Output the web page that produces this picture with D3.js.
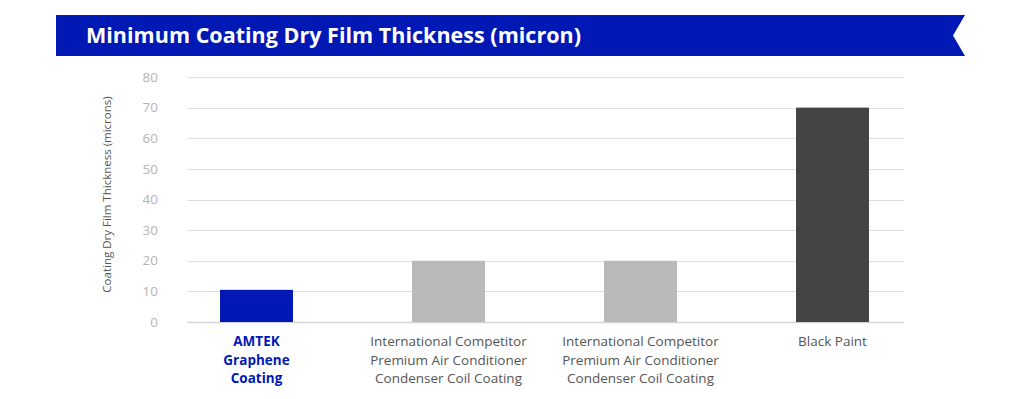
<!DOCTYPE html>
<html>
<head>
<meta charset="utf-8">
<script src="https://cdn.jsdelivr.net/npm/d3@7"></script>
<style>
  body { margin: 0; background: #fff; }
  svg { display: block; font-family: "Open Sans", "Noto Sans", sans-serif; }
</style>
</head>
<body>
<svg id="chart" width="1024" height="399"></svg>
<script>
// Chart data.
var categories = [
    ['AMTEK', 'Graphene', 'Coating'],
    ['International Competitor', 'Premium Air Conditioner', 'Condenser Coil Coating'],
    ['International Competitor', 'Premium Air Conditioner', 'Condenser Coil Coating'],
    ['Black Paint']
];
var values = [10.5, 20, 20, 70];
var barColors = ['#0119b4', '#b8b9bb', '#b8b9bb', '#444444'];
var labelColors = ['#0119b4', '#555555', '#555555', '#555555'];
var yTicks = [0, 10, 20, 30, 40, 50, 60, 70, 80];

var svg = d3.select('#chart');

// Title banner with the notch on the right.
var bannerTop = 15, bannerBottom = 56, bannerLeft = 56, bannerRight = 965, notch = 12;
svg.append('path')
    .attr('d', d3.line()([
        [bannerLeft, bannerTop], [bannerRight, bannerTop],
        [bannerRight - notch, (bannerTop + bannerBottom) / 2],
        [bannerRight, bannerBottom], [bannerLeft, bannerBottom]
    ]) + 'Z')
    .attr('fill', '#0119b4');

svg.append('text')
    .attr('x', 86)
    .attr('y', 43)
    .attr('fill', '#fff')
    .attr('font-size', 21.5)
    .attr('font-weight', 'bold')
    .attr('textLength', 495)
    .text('Minimum Coating Dry Film Thickness (micron)');

// Scales.
var y = d3.scaleLinear().domain([0, 80]).range([322, 77]);
var x = d3.scaleBand()
    .domain(d3.range(categories.length))
    .range([160.5, 928.5])
    .paddingInner(0.62)
    .paddingOuter(0.31);

var gridLeft = 187, gridRight = 904;

// Gridlines.
svg.append('g')
    .selectAll('line')
    .data(yTicks)
    .join('line')
    .attr('x1', gridLeft)
    .attr('x2', gridRight)
    .attr('y1', d => Math.round(y(d)) + 0.5)
    .attr('y2', d => Math.round(y(d)) + 0.5)
    .attr('stroke', d => d === 0 ? '#d4d4d4' : '#e0e0e0')
    .attr('stroke-width', d => d === 0 ? 1.5 : 1);

// Y tick labels.
svg.append('g')
    .selectAll('text')
    .data(yTicks)
    .join('text')
    .attr('x', 158)
    .attr('y', d => y(d))
    .attr('dy', '0.35em')
    .attr('text-anchor', 'end')
    .attr('fill', '#b5b5b5')
    .attr('font-size', 13.5)
    .text(d => d);

// Y axis title.
svg.append('text')
    .attr('transform', 'translate(111,' + ((y(0) + y(80)) / 2 - 5) + ') rotate(-90)')
    .attr('text-anchor', 'middle')
    .attr('fill', '#555')
    .attr('font-size', 11.5)
    .text('Coating Dry Film Thickness (microns)');

// Bars.
svg.append('g')
    .selectAll('rect')
    .data(values)
    .join('rect')
    .attr('x', (d, i) => x(i))
    .attr('y', d => y(d))
    .attr('width', x.bandwidth())
    .attr('height', d => y(0) - y(d))
    .attr('fill', (d, i) => barColors[i]);

// Category labels.
svg.append('g')
    .selectAll('text')
    .data(categories)
    .join('text')
    .attr('text-anchor', 'middle')
    .attr('font-size', 13.5)
    .attr('font-weight', (d, i) => i === 0 ? 'bold' : 'normal')
    .attr('fill', (d, i) => labelColors[i])
    .each(function (lines, i) {
        d3.select(this)
            .selectAll('tspan')
            .data(lines)
            .join('tspan')
            .attr('x', x(i) + x.bandwidth() / 2)
            .attr('y', (l, k) => 346 + k * 18.5)
            .text(l => l);
    });
</script>
</body>
</html>
